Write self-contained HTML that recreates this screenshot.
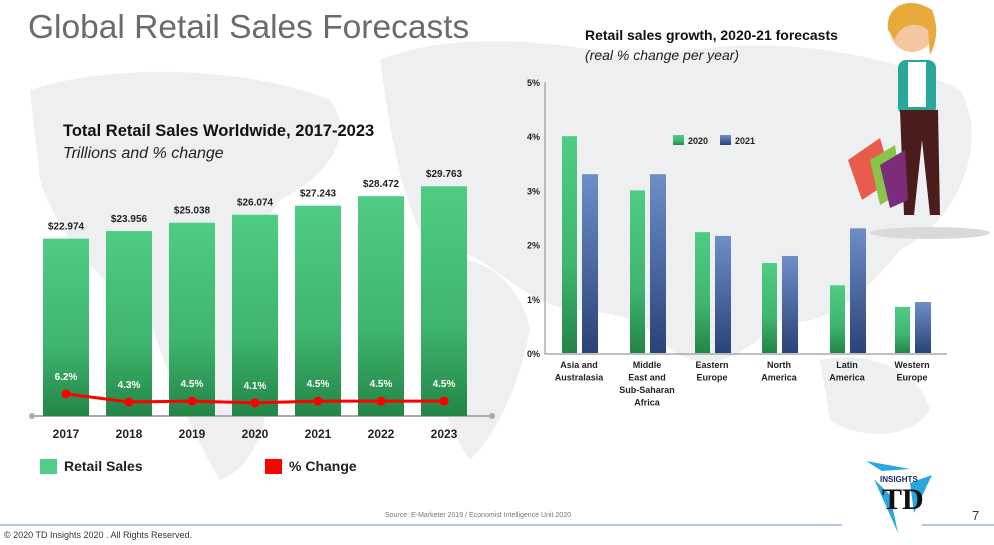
<!DOCTYPE html>
<html><head><meta charset="utf-8">
<style>
body{margin:0;width:994px;height:545px;overflow:hidden;background:#fff;font-family:"Liberation Sans",sans-serif;position:relative}
.abs{position:absolute}
</style></head>
<body>
<svg class="abs" style="left:0;top:0" width="994" height="545">
<g fill="#eeeff1">
<path d="M30,90 C120,60 260,70 330,100 C360,140 320,180 280,200 C250,240 230,300 260,360 C280,420 250,470 220,480 C190,430 170,380 150,320 C100,280 60,240 40,180 Z"/>
<path d="M380,60 C450,30 560,40 640,60 C760,30 880,50 960,90 C990,140 960,220 900,250 C860,300 820,330 780,320 C740,360 700,380 660,340 C620,300 580,320 540,300 C500,280 470,240 430,250 C400,200 390,130 380,60 Z"/>
<path d="M430,260 C480,250 520,280 530,330 C520,380 500,430 470,460 C440,420 420,340 430,260 Z"/>
<path d="M820,360 C870,350 920,370 930,410 C910,440 860,440 830,420 Z"/>
</g>
<line x1="0" y1="525" x2="842" y2="525" stroke="#6f8fc9" stroke-width="1"/>
<line x1="922" y1="525" x2="994" y2="525" stroke="#6f8fc9" stroke-width="1"/>
</svg>

<div class="abs" style="left:28px;top:9px;font-size:33.5px;color:#6b6b6b">Global Retail Sales Forecasts</div>
<div class="abs" style="left:63px;top:122px;font-size:16.5px;font-weight:bold;color:#111">Total Retail Sales Worldwide, 2017-2023</div>
<div class="abs" style="left:63px;top:145px;font-size:16px;font-style:italic;color:#222">Trillions and % change</div>
<div class="abs" style="left:585px;top:27px;font-size:14px;font-weight:bold;color:#111">Retail sales growth, 2020-21 forecasts</div>
<div class="abs" style="left:585px;top:47px;font-size:14px;font-style:italic;color:#222">(real % change per year)</div>

<svg id="left" class="abs" style="left:0;top:0" width="500" height="500">
<defs><linearGradient id="gg" x1="0" y1="0" x2="0" y2="1"><stop offset="0" stop-color="#4fcc85"/><stop offset="0.6" stop-color="#3fb56f"/><stop offset="1" stop-color="#238547"/></linearGradient>
<linearGradient id="gb" x1="0" y1="0" x2="0" y2="1"><stop offset="0" stop-color="#6e8ec8"/><stop offset="1" stop-color="#2a4378"/></linearGradient></defs>
</svg>
<svg id="right" class="abs" style="left:0;top:0" width="994" height="545"></svg>

<div class="abs" style="left:40px;top:459px;width:17px;height:15px;background:#4fcc85"></div>
<div class="abs" style="left:64px;top:458px;font-size:14px;font-weight:bold;color:#222">Retail Sales</div>
<div class="abs" style="left:265px;top:459px;width:17px;height:15px;background:#f00"></div>
<div class="abs" style="left:289px;top:458px;font-size:14px;font-weight:bold;color:#222">% Change</div>

<div class="abs" style="left:385px;top:512px;font-size:7px;color:#777">Source: E-Marketer 2019 / Economist Intelligence Unit 2020</div>
<div class="abs" style="left:4px;top:530px;font-size:9px;color:#333">© 2020 TD Insights 2020 . All Rights Reserved.</div>
<div class="abs" style="left:972px;top:508px;font-size:13px;color:#333">7</div>

<svg class="abs" style="left:860px;top:455px" width="80" height="85">
<polygon points="6,6 50,14 22,16" fill="#29a8e0"/>
<polygon points="14,24 38,78 30,40" fill="#29a8e0"/>
<polygon points="50,28 72,20 54,58" fill="#29a8e0"/>
<text x="20" y="27" font-size="8" font-weight="bold" fill="#1a2a6a" font-family="Liberation Sans">INSIGHTS</text>
<text x="22" y="54" font-size="30" font-weight="bold" fill="#111" font-family="Liberation Serif">TD</text>
</svg>

<svg class="abs" style="left:840px;top:0" width="150" height="245">
<ellipse cx="90" cy="233" rx="60" ry="6" fill="#d9d9d9"/>
<circle cx="72" cy="30" r="22" fill="#f3c7a0"/>
<path d="M48,30 C45,5 70,-5 92,10 C100,30 95,45 90,55 L88,30 C80,22 60,22 55,40 Z" fill="#e6a93a"/>
<rect x="58" y="60" width="38" height="55" rx="8" fill="#2aa79b"/>
<rect x="68" y="62" width="18" height="45" fill="#fff"/>
<path d="M60,110 L98,110 L100,215 L90,215 L82,140 L74,215 L64,215 Z" fill="#4a1c1c"/>
<polygon points="8,160 40,138 52,180 22,200" fill="#e85a4a"/>
<polygon points="30,160 55,145 62,192 40,205" fill="#8bc34a"/>
<polygon points="40,165 65,150 68,200 50,208" fill="#7b2d7b"/>
</svg>

<script>
// Left chart data
const years = ["2017","2018","2019","2020","2021","2022","2023"];
const sales = [22.974,23.956,25.038,26.074,27.243,28.472,29.763];
const salesLabels = ["$22.974","$23.956","$25.038","$26.074","$27.243","$28.472","$29.763"];
const pctChange = [6.2,4.3,4.5,4.1,4.5,4.5,4.5];
const pctLabels = ["6.2%","4.3%","4.5%","4.1%","4.5%","4.5%","4.5%"];

// Right chart data
const regions = [["Asia and","Australasia"],["Middle","East and","Sub-Saharan","Africa"],["Eastern","Europe"],["North","America"],["Latin","America"],["Western","Europe"]];
const growth2020 = [4.0,3.0,2.23,1.66,1.25,0.85];
const growth2021 = [3.3,3.3,2.16,1.79,2.3,0.94];
const yTicks = [0,1,2,3,4,5];

const NS="http://www.w3.org/2000/svg";
function mk(parent,tag,attrs,text){const e=document.createElementNS(NS,tag);for(const k in attrs)e.setAttribute(k,attrs[k]);if(text!==undefined)e.textContent=text;parent.appendChild(e);return e;}

// left
const L=document.getElementById('left');
const xL=i=>66+i*63;
const ySales=v=>416-v*7.72;
const yPct=v=>402-(v-4.3)*4.3;
const axisL=mk(L,'line',{x1:32,y1:416,x2:492,y2:416,stroke:'#aaa','stroke-width':2});


years.forEach((y,i)=>{
  const r=mk(L,'rect',{x:xL(i)-23,y:ySales(sales[i]),width:46,height:416-ySales(sales[i]),fill:'url(#gg)'});
  
  
  const t=mk(L,'text',{x:xL(i),y:ySales(sales[i])-9,'text-anchor':'middle','font-size':10,'font-weight':'bold',fill:'#222'},salesLabels[i]);
  
  
  const xt=mk(L,'text',{x:xL(i),y:438,'text-anchor':'middle','font-size':12,'font-weight':'bold',fill:'#222'},y);
  
  
  const pt=mk(L,'text',{x:xL(i),y:yPct(pctChange[i])-14,'text-anchor':'middle','font-size':10,'font-weight':'bold',fill:'#fff'},pctLabels[i]);
  
  
});
const pts=years.map((y,i)=>xL(i)+','+yPct(pctChange[i])).join(' ');
const pl=mk(L,'polyline',{points:pts,fill:'none',stroke:'#f00','stroke-width':3});


years.forEach((y,i)=>{
  const c=mk(L,'circle',{cx:xL(i),cy:yPct(pctChange[i]),r:4.5,fill:'#f00'});
  
  
});
[32,492].forEach(x=>{const c=mk(L,'circle',{cx:x,cy:416,r:3,fill:'#aaa'});
  
  });

// right
const R=document.getElementById('right');
const yR=v=>353-v*54.2;
const cx=[579,647,712,779,847,912];
const ax=mk(R,'polyline',{points:'545,82 545,354 947,354',fill:'none',stroke:'#999','stroke-width':1.2});


yTicks.forEach(t=>{
  const tx=mk(R,'text',{x:540,y:yR(t)+4,'text-anchor':'end','font-size':9,'font-weight':'bold',fill:'#222'},t+'%');
  
  
});
regions.forEach((lines,i)=>{
  const g=mk(R,'rect',{x:cx[i]-17,y:yR(growth2020[i]),width:15,height:353-yR(growth2020[i]),fill:'url(#gg)'});
  
  
  const b=mk(R,'rect',{x:cx[i]+3,y:yR(growth2021[i]),width:16,height:353-yR(growth2021[i]),fill:'url(#gb)'});
  
  
  lines.forEach((ln,j)=>{
    const t=mk(R,'text',{x:cx[i],y:368+j*12.5,'text-anchor':'middle','font-size':9,'font-weight':'bold',fill:'#222'},ln);
    
    
  });
});
const l1=mk(R,'rect',{x:673,y:135,width:11,height:10,fill:'url(#gg)'});


const l1t=mk(R,'text',{x:688,y:144,'font-size':9,'font-weight':'bold',fill:'#222'},'2020');


const l2=mk(R,'rect',{x:720,y:135,width:11,height:10,fill:'url(#gb)'});


const l2t=mk(R,'text',{x:735,y:144,'font-size':9,'font-weight':'bold',fill:'#222'},'2021');


R.innerHTML = document.querySelector('#left defs').outerHTML + R.innerHTML;
</script>
</body></html>
